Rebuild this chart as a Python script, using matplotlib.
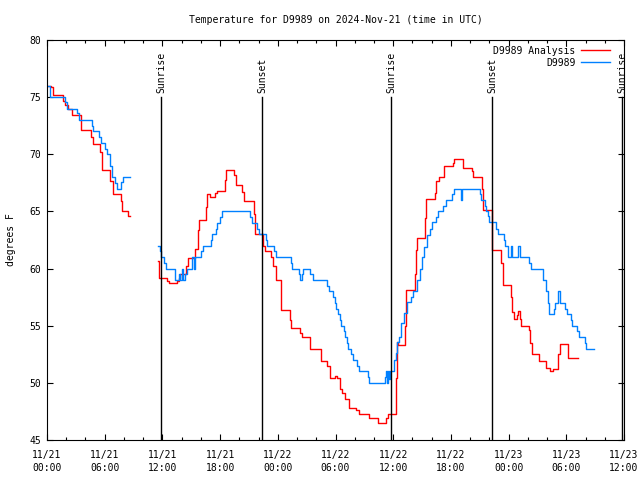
import matplotlib
matplotlib.use("Agg")
import matplotlib.pyplot as plt
import numpy as np

# hours since 2024-11-21 00:00 UTC, temperature in F (nan = data gap)
red_t = [0.0, 0.4, 0.6, 1.65, 1.85, 2.2, 2.55, 3.5, 4.55, 4.75, 5.55, 5.75, 6.6, 6.9,
         7.65, 7.75, 8.4, 8.6, 8.6,
         11.56, 11.62, 11.66, 12.49, 12.67, 13.53, 13.71, 13.81, 14.5, 14.67, 15.44,
         15.71, 15.78, 16.51, 16.6, 16.93, 17.48, 17.69, 18.55, 18.62, 19.45, 19.63,
         20.25, 20.49, 21.57, 21.67, 22.46, 22.71, 23.33, 23.5, 23.82, 24.37, 25.3,
         25.41, 26.34, 26.51, 27.38, 28.45, 29.14, 29.46, 29.91, 30.18, 30.43, 30.67,
         30.95, 31.43, 32.16, 32.4, 33.44, 34.4, 35.27, 35.44, 36.31, 36.41, 36.48,
         37.25, 37.32, 37.38, 38.29, 38.39, 38.45, 39.32, 39.39, 40.36, 40.46, 40.81,
         41.26, 41.33, 42.26, 42.37, 43.3, 44.17, 44.27, 45.2, 45.38, 46.24, 47.21,
         47.39, 48.25, 48.36, 48.53, 48.84, 49.01, 49.15, 49.29, 50.08, 50.26, 50.4,
         51.2, 51.89, 52.3, 52.6, 53.1, 53.34, 54.2, 55.17]
red_f = [76.0, 75.9, 75.2, 74.7, 74.3, 74.0, 73.4, 72.1, 71.5, 70.9, 70.2, 68.6, 67.7, 66.5,
         65.9, 65.0, 64.6, 64.6, np.nan,
         60.7, 59.9, 59.15, 58.9, 58.7, 58.9, 59.2, 59.5, 60.2, 60.9, 61.7,
         63.4, 64.25, 65.4, 66.5, 66.3, 66.6, 66.8, 67.75, 68.6, 68.2, 67.3,
         66.7, 65.9, 64.8, 63.0, 62.0, 61.5, 61.0, 60.2, 59.0, 56.4, 55.5,
         54.8, 54.4, 54.0, 53.0, 51.9, 51.5, 50.4, 50.6, 50.4, 49.5, 49.1,
         48.6, 47.8, 47.6, 47.3, 46.9, 46.5, 46.9, 47.3, 50.4, 53.6, 53.3,
         55.0, 57.0, 58.1, 59.5, 61.6, 62.65, 64.4, 66.1, 66.6, 67.7, 68.0,
         68.3, 69.0, 69.2, 69.6, 68.8, 68.5, 68.0, 67.0, 65.1, 61.6, 60.5,
         58.6, 57.5, 56.2, 55.6, 55.9, 56.3, 55.6, 55.0, 54.6, 53.5, 52.5,
         51.9, 51.3, 51.0, 51.2, 52.5, 53.4, 52.15, 52.15]

blue_t = [0.0, 0.3, 1.84, 2.1, 3.08, 3.35, 4.64, 4.78, 5.4, 5.57, 6.02, 6.2, 6.6, 6.78,
          7.03, 7.24, 7.72, 7.93, 8.62, 8.62,
          11.56, 11.7, 11.87, 12.15, 12.36, 13.26, 13.32, 13.68, 13.81, 14.0, 14.1,
          14.4, 14.57, 15.1, 15.25, 15.4, 16.06, 16.2, 17.05, 17.17, 17.55, 17.68,
          18.04, 18.2, 21.08, 21.29, 21.88, 22.05, 22.74, 22.9, 23.6, 23.85, 25.35,
          25.47, 26.2, 26.27, 26.5, 26.62, 27.4, 27.65, 29.15, 29.28, 29.75, 29.91,
          30.1, 30.25, 30.45, 30.6, 30.85, 31.02, 31.15, 31.29, 31.65, 31.81, 32.2,
          32.4, 33.35, 33.47, 35.15, 35.2, 35.35, 35.45, 35.6, 35.65, 36.1, 36.24,
          36.41, 36.58, 36.83, 37.1, 37.45, 37.85, 38.04, 38.45, 38.8, 39.01, 39.25,
          39.53, 39.8, 40.05, 40.4, 40.63, 41.2, 41.5, 42.1, 42.37, 43.06, 43.17,
          45.04, 45.14, 45.5, 45.66, 45.9, 46.0, 46.7, 46.87, 47.5, 47.66, 47.9,
          47.98, 48.25, 48.4, 48.95, 49.15, 50.16, 50.33, 51.6, 51.89, 52.06, 52.16,
          52.68, 52.82, 53.1, 53.3, 53.86, 54.03, 54.49, 54.59, 55.11, 55.28, 55.94,
          56.04, 56.9]
blue_f = [76, 75, 74.6, 74, 73.6, 73, 72.5, 72, 71.5, 71, 70.5, 70, 69, 68,
          67.5, 67, 67.6, 68, 68, np.nan,
          62, 61.5, 61, 60.5, 60, 59.5, 59, 59.5, 59, 60, 59,
          59.5, 60, 61, 60, 61, 61.5, 62, 62.5, 63, 63.5, 64,
          64.5, 65, 64.5, 64, 63.5, 63, 62.5, 62, 61.5, 61, 60.5,
          60, 59.5, 59, 59.5, 60, 59.5, 59, 58.5, 58, 57.5, 57,
          56.5, 56, 55.5, 55, 54.5, 54, 53.5, 53, 52.5, 52, 51.5,
          51, 50.5, 50, 50.5, 51, 50, 51, 50.3, 51, 52, 52.6,
          53.6, 54, 55.2, 56.1, 57.1, 57.5, 58, 59, 60, 61, 61.9,
          62.9, 63.5, 64.1, 64.5, 65, 65.5, 66, 66.5, 67, 66, 67,
          66.5, 66, 65.5, 65, 64.6, 64.1, 63.5, 63, 62.5, 62, 61.5,
          61, 62, 61, 62, 61, 60.5, 60, 59, 58, 57, 56,
          56.5, 57, 58, 57, 56.5, 56, 55.5, 55, 54.5, 54, 53.5,
          53, 53]

sun_t = [11.85, 22.35, 35.8, 46.3, 59.8]
sun_labels = ["Sunrise", "Sunset", "Sunrise", "Sunset", "Sunrise"]

xtick_pos = [0, 6, 12, 18, 24, 30, 36, 42, 48, 54, 60]
xtick_labels = ["11/21\n00:00", "11/21\n06:00", "11/21\n12:00", "11/21\n18:00",
                "11/22\n00:00", "11/22\n06:00", "11/22\n12:00", "11/22\n18:00",
                "11/23\n00:00", "11/23\n06:00", "11/23\n12:00"]

plt.rcParams['font.family'] = 'DejaVu Sans Mono'
plt.rcParams['font.size'] = 7

fig = plt.figure(figsize=(6.4, 4.8), dpi=100)
ax = fig.add_axes([47 / 640, 40 / 480, 577 / 640, 400 / 480])

ax.plot(red_t, red_f, color='#ff0000', linewidth=1.0, drawstyle='steps-post', label="D9989 Analysis")
ax.plot(blue_t, blue_f, color='#0080ff', linewidth=1.0, drawstyle='steps-post', label="D9989")

# sunrise / sunset markers: line starts at 75F, label sits just above it
for t, lbl in zip(sun_t, sun_labels):
    ax.axvline(t, ymin=0, ymax=(75 - 45) / 35, color='black', linewidth=1.0)
    ax.text(t, 75.35, lbl, rotation=90, ha='center', va='bottom', fontsize=7)

ax.set_xlim(0, 60)
ax.set_ylim(45, 80)
ax.set_xticks(xtick_pos)
ax.set_xticklabels(xtick_labels, linespacing=1.45)
ax.set_xticks(np.arange(0, 61, 2), minor=True)
ax.set_yticks(np.arange(45, 81, 5))
ax.tick_params(which='both', direction='in', top=True, right=True, width=0.8)
ax.tick_params(which='major', length=4.5)
ax.tick_params(which='minor', length=2.5)
ax.tick_params(axis='x', which='major', pad=7)
ax.tick_params(axis='y', which='major', pad=4)
for s in ax.spines.values():
    s.set_linewidth(0.8)

ax.set_title("Temperature for D9989 on 2024-Nov-21 (time in UTC)", fontsize=7, pad=12)
ax.set_ylabel("degrees F", labelpad=10)
ax.legend(loc='upper right', bbox_to_anchor=(0.983, 0.995), frameon=False, markerfirst=False,
          handlelength=3.0, borderaxespad=0.0, labelspacing=0.2, handletextpad=0.6)

plt.savefig("out.png", dpi=100)
